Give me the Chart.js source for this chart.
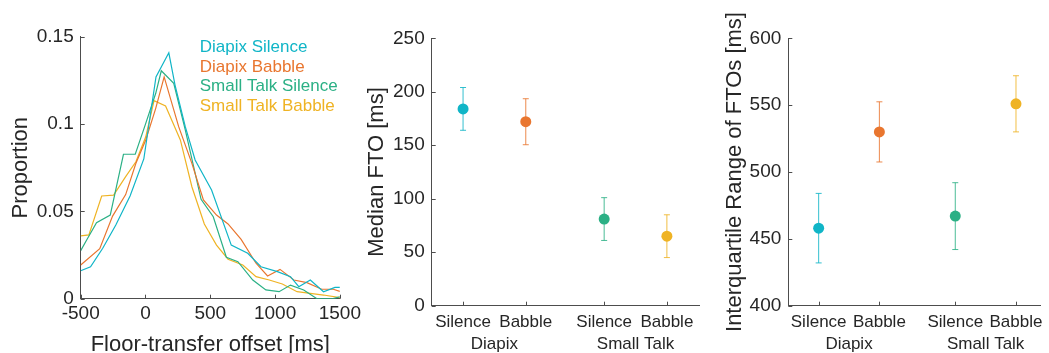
<!DOCTYPE html>
<html>
<head>
<meta charset="utf-8">
<script src="https://cdn.jsdelivr.net/npm/chart.js@4.4.1/dist/chart.umd.min.js"></script>
<style>
  body { margin:0; background:#fff; width:1049px; height:353px; overflow:hidden; position:relative; }
  .box { position:absolute; top:0; height:353px; }
</style>
</head>
<body>
<div class="box" style="left:0;width:365px"><canvas id="c1"></canvas></div>
<div class="box" style="left:355px;width:350px"><canvas id="c2"></canvas></div>
<div class="box" style="left:705px;width:344px"><canvas id="c3"></canvas></div>
<script>
// ---- data ----
var seriesNames = ['Diapix Silence', 'Diapix Babble', 'Small Talk Silence', 'Small Talk Babble'];
var seriesColors = ['#10b5c7', '#e9762f', '#2bb085', '#efb324'];

// FTO distributions (x in ms, y proportion)
var dsX = [-500,-424,-330,-229,-119,-13,81,180,228,307,383,510,662,789,891,1018,1119,1183,1272,1374,1462,1500];
var dsY = [0.016,0.0183,0.0289,0.0422,0.0588,0.080,0.127,0.1408,0.1223,0.0985,0.0794,0.0622,0.0307,0.026,0.0183,0.0155,0.0126,0.0069,0.0107,0.004,0.0065,0.0065];
var dbX = [-500,-353,-254,-153,-74,2,79,144,256,358,447,548,637,738,853,942,1038,1145,1246,1360,1449,1500];
var dbY = [0.0193,0.0286,0.0473,0.0596,0.0775,0.0909,0.109,0.127,0.0985,0.0775,0.0565,0.0479,0.0428,0.034,0.0203,0.013,0.0168,0.0107,0.0092,0.0054,0.0054,0.0042];
var ssX = [-500,-454,-378,-272,-170,-79,2,79,122,218,307,429,523,624,713,828,929,1031,1119,1221,1323,1449,1500];
var ssY = [0.0275,0.0336,0.0435,0.0479,0.0827,0.0827,0.1004,0.1176,0.1305,0.1233,0.0966,0.0569,0.0469,0.0237,0.0212,0.0107,0.005,0.004,0.0078,0.005,0,0,0.0011];
var sbX = [-500,-437,-338,-246,-153,-74,2,66,155,269,358,454,548,637,751,853,955,1056,1170,1272,1374,1500];
var sbY = [0.036,0.0365,0.0588,0.0593,0.0699,0.0784,0.0927,0.1134,0.1103,0.0909,0.0641,0.0428,0.0307,0.0226,0.0193,0.0126,0.0107,0.0084,0.004,0.0031,0.0021,0.0006];

// conditions
var condPos = [1, 2, 3.25, 4.25];
var condLabels = ['Silence', 'Babble', 'Silence', 'Babble'];
var groupPos = [1.5, 3.75];
var groupLabels = ['Diapix', 'Small Talk'];
var medianFTO = [184, 172, 81, 65];
var medianErr = [20, 21.5, 20, 20];
var iqrFTO = [458, 530, 467, 551];
var iqrErr = [26, 22.5, 25, 21];

var FONT = "'Liberation Sans', Arial, sans-serif";
var TXT = '#262626';
var AXIS = '#4d4d4d';

function xy(xs, ys){
  var out = [];
  for (var i = 0; i < xs.length; i++) out.push({x: xs[i], y: ys[i]});
  return out;
}

// small ticks pointing into the plot, like the original
var inTicks = {
  id: 'inTicks',
  afterDatasetsDraw: function(chart){
    var ctx = chart.ctx, a = chart.chartArea;
    var xs = chart.scales.x, ys = chart.scales.y;
    ctx.save();
    ctx.strokeStyle = AXIS; ctx.lineWidth = 1;
    ctx.beginPath();
    xs.ticks.forEach(function(t){
      var p = Math.round(xs.getPixelForValue(t.value)) + 0.5;
      ctx.moveTo(p, a.bottom); ctx.lineTo(p, a.bottom - 4);
    });
    ys.ticks.forEach(function(t){
      var p = Math.round(ys.getPixelForValue(t.value)) + 0.5;
      ctx.moveTo(a.left, p); ctx.lineTo(a.left + 4, p);
    });
    ctx.stroke();
    ctx.restore();
  }
};

var errBars = {
  id: 'errBars',
  beforeDatasetsDraw: function(chart){
    var ctx = chart.ctx, ds = chart.data.datasets[0];
    var xs = chart.scales.x, ys = chart.scales.y;
    ctx.save();
    ctx.lineWidth = 1;
    ctx.globalAlpha = 0.85;
    ds.data.forEach(function(p, i){
      var px = xs.getPixelForValue(p.x);
      var top = ys.getPixelForValue(p.y + ds.errors[i]);
      var bot = ys.getPixelForValue(p.y - ds.errors[i]);
      ctx.strokeStyle = seriesColors[i];
      ctx.beginPath();
      ctx.moveTo(px, top); ctx.lineTo(px, bot);
      ctx.moveTo(px - 3, top); ctx.lineTo(px + 3, top);
      ctx.moveTo(px - 3, bot); ctx.lineTo(px + 3, bot);
      ctx.stroke();
    });
    ctx.restore();
  }
};

var textLegend = {
  id: 'textLegend',
  afterDraw: function(chart){
    var ctx = chart.ctx, a = chart.chartArea;
    ctx.save();
    ctx.font = '17px ' + FONT;
    ctx.textBaseline = 'middle';
    ctx.textAlign = 'left';
    seriesNames.forEach(function(n, i){
      ctx.fillStyle = seriesColors[i];
      ctx.fillText(n, a.left + 119, a.top + 11 + i * 19.5);
    });
    ctx.restore();
  }
};

Chart.defaults.font.family = FONT;
Chart.defaults.color = TXT;
Chart.defaults.animation = false;

// ---- left: distributions ----
var lineSets = [[dsX, dsY], [dbX, dbY], [ssX, ssY], [sbX, sbY]].map(function(s, i){
  return {
    label: seriesNames[i],
    data: xy(s[0], s[1]),
    borderColor: seriesColors[i],
    borderWidth: 1.2,
    pointRadius: 0,
    fill: false,
    tension: 0
  };
});

new Chart(document.getElementById('c1'), {
  type: 'line',
  data: { datasets: lineSets },
  options: {
    responsive: true,
    maintainAspectRatio: false,
    layout: { padding: { top: 36.7, right: 21.7, bottom: 0, left: 0 } },
    plugins: { legend: { display: false }, tooltip: { enabled: false } },
    scales: {
      x: {
        type: 'linear', min: -500, max: 1500,
        grid: { display: false, drawTicks: false },
        border: { display: true, color: AXIS, width: 1 },
        ticks: { stepSize: 500, font: { size: 19 }, padding: 4, maxRotation: 0,
                 callback: function(v){ return String(v); } },
        title: { display: true, text: 'Floor-transfer offset [ms]', font: { size: 22, lineHeight: 1 }, padding: { top: 0, bottom: -3 } },
        afterFit: function(s){ s.height = 54.3; }
      },
      y: {
        min: 0, max: 0.15,
        grid: { display: false, drawTicks: false },
        border: { display: true, color: AXIS, width: 1 },
        ticks: { stepSize: 0.05, font: { size: 19 }, padding: 7,
                 callback: function(v){ return String(+v.toFixed(2)); } },
        title: { display: true, text: 'Proportion', font: { size: 22 }, padding: { top: 8 } },
        afterFit: function(s){ s.width = 80.7; }
      }
    }
  },
  plugins: [inTicks, textLegend]
});

// ---- middle and right: condition summaries ----
function summaryChart(id, vals, errs, yMin, yMax, xMax, yTitle, padRight, yWidth, titlePad){
  return new Chart(document.getElementById(id), {
    type: 'scatter',
    data: {
      datasets: [{
        data: xy(condPos, vals),
        errors: errs,
        backgroundColor: seriesColors,
        borderWidth: 0,
        pointRadius: 5.5
      }]
    },
    options: {
      responsive: true,
      maintainAspectRatio: false,
      layout: { padding: { top: 38.3, right: padRight, bottom: 0, left: 0 } },
      plugins: { legend: { display: false }, tooltip: { enabled: false } },
      scales: {
        x: {
          type: 'linear', min: 0.5, max: xMax,
          grid: { display: false, drawTicks: false },
          border: { display: true, color: AXIS, width: 1 },
          afterBuildTicks: function(s){ s.ticks = condPos.map(function(v){ return { value: v }; }); },
          ticks: { autoSkip: false, maxRotation: 0, font: { size: 17 }, padding: 6,
                   callback: function(v, i){ return condLabels[i]; } },
          afterFit: function(s){ s.height = 26; }
        },
        x2: {
          type: 'linear', position: 'bottom', min: 0.5, max: xMax,
          grid: { display: false, drawTicks: false },
          border: { display: false },
          afterBuildTicks: function(s){ s.ticks = groupPos.map(function(v){ return { value: v }; }); },
          ticks: { autoSkip: false, maxRotation: 0, font: { size: 17 }, padding: 2,
                   callback: function(v, i){ return groupLabels[i]; } },
          afterFit: function(s){ s.height = 21.3; }
        },
        y: {
          min: yMin, max: yMax,
          grid: { display: false, drawTicks: false },
          border: { display: true, color: AXIS, width: 1 },
          ticks: { stepSize: 50, font: { size: 19 }, padding: 7 },
          title: { display: true, text: yTitle, font: { size: 22 }, padding: { top: titlePad } },
          afterFit: function(s){ s.width = yWidth; }
        }
      }
    },
    plugins: [errBars, inTicks]
  });
}

summaryChart('c2', medianFTO, medianErr, 0, 250, 4.77, 'Median FTO [ms]', 5, 76.7, 8.5);
summaryChart('c3', iqrFTO, iqrErr, 400, 600, 4.66, 'Interquartile Range of FTOs [ms]', 0, 83.3, 17);
</script>
</body>
</html>
